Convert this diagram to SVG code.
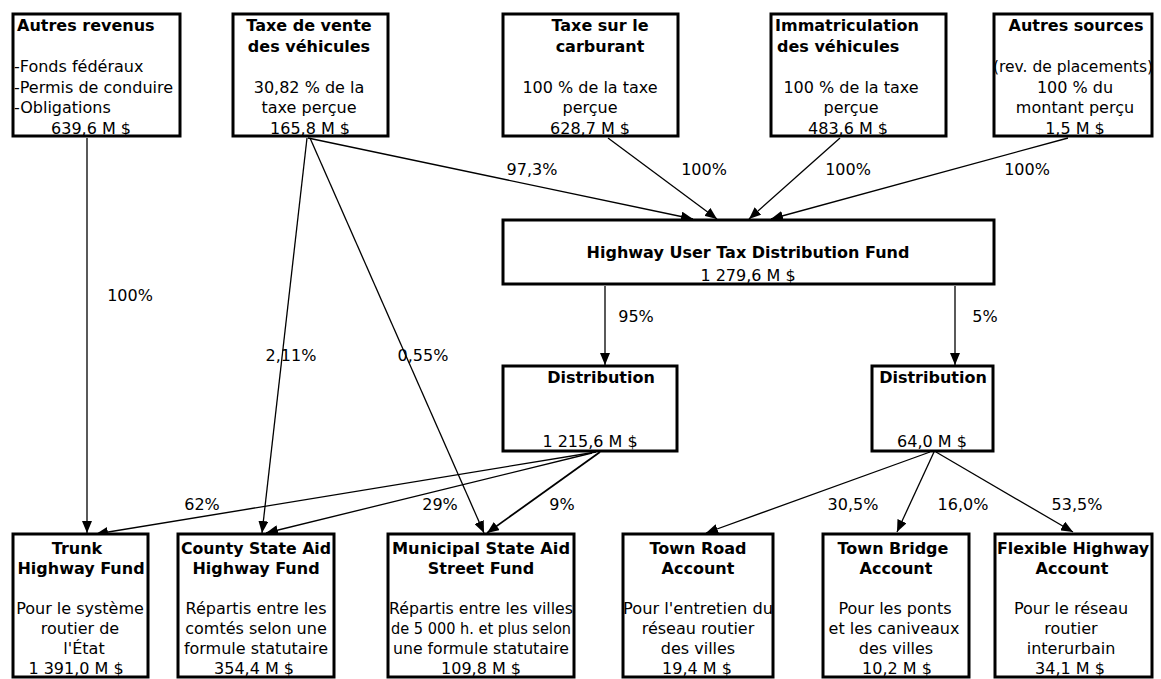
<svg xmlns="http://www.w3.org/2000/svg" width="1161" height="679" viewBox="0 0 1161 679">
<defs>
<style>
.box{fill:#fff;stroke:#000;stroke-width:3}
text{font-family:"DejaVu Sans",Verdana,sans-serif;font-size:16px;fill:#000}
.b{font-weight:bold}
.c{text-anchor:middle}
#connectors line{stroke:#000;stroke-width:1.3;marker-end:url(#ah)}
</style>
<marker id="ah" markerUnits="userSpaceOnUse" markerWidth="12" markerHeight="10" refX="12" refY="5" orient="auto">
<path d="M0,0 L12,5 L0,10 z" fill="#000"/>
</marker>
</defs>
<rect width="1161" height="679" fill="#fff"/>

<g id="connectors">
<line x1="87" y1="138" x2="87" y2="533"/>
<line x1="308" y1="138" x2="693" y2="219"/>
<line x1="608" y1="138" x2="717" y2="219"/>
<line x1="840" y1="138" x2="749" y2="219"/>
<line x1="1068" y1="138" x2="771" y2="219"/>
<line x1="605" y1="286" x2="605" y2="365"/>
<line x1="955" y1="286" x2="955" y2="365"/>
<line x1="307" y1="138" x2="262" y2="533"/>
<line x1="310" y1="138" x2="484" y2="533"/>
<line x1="596" y1="452" x2="96" y2="534"/>
<line x1="592" y1="453" x2="266" y2="533"/>
<line x1="600" y1="452" x2="487" y2="533" style="stroke-width:1.8"/>
<line x1="930" y1="452" x2="706" y2="533"/>
<line x1="934" y1="452" x2="897" y2="532"/>
<line x1="936" y1="452" x2="1073" y2="532"/>
</g>

<g id="labels" class="c">
<text x="130" y="301" class="c">100%</text>
<text x="532" y="175" class="c">97,3%</text>
<text x="704" y="175" class="c">100%</text>
<text x="848" y="175" class="c">100%</text>
<text x="1027" y="175" class="c">100%</text>
<text x="636" y="322" class="c">95%</text>
<text x="985" y="322" class="c">5%</text>
<text x="291" y="361" class="c">2,11%</text>
<text x="423" y="361" class="c">0,55%</text>
<text x="202" y="510" class="c">62%</text>
<text x="440" y="510" class="c">29%</text>
<text x="562" y="510" class="c">9%</text>
<text x="853" y="510" class="c">30,5%</text>
<text x="963" y="510" class="c">16,0%</text>
<text x="1077" y="510" class="c">53,5%</text>
</g>

<g id="autres-revenus">
<rect class="box" x="13" y="14" width="167" height="122"/>
<text x="17" y="31" class="b">Autres revenus</text>
<text x="14" y="72">-Fonds fédéraux</text>
<text x="14" y="92.5">-Permis de conduire</text>
<text x="14" y="113">-Obligations</text>
<text x="91" y="133.5" class="c">639,6 M $</text>
</g>

<g id="taxe-vente">
<rect class="box" x="233" y="14" width="155" height="122"/>
<text x="309" y="31" class="b c">Taxe de vente</text>
<text x="309" y="51.5" class="b c">des véhicules</text>
<text x="309" y="92.5" class="c">30,82 % de la</text>
<text x="309" y="113" class="c">taxe perçue</text>
<text x="310" y="133.5" class="c">165,8 M $</text>
</g>

<g id="taxe-carburant">
<rect class="box" x="503" y="14" width="175" height="122"/>
<text x="600" y="31" class="b c">Taxe sur le</text>
<text x="600" y="51.5" class="b c">carburant</text>
<text x="590" y="92.5" class="c">100 % de la taxe</text>
<text x="590" y="113" class="c">perçue</text>
<text x="590" y="133.5" class="c">628,7 M $</text>
</g>

<g id="immatriculation">
<rect class="box" x="771" y="14" width="175" height="122"/>
<text x="775" y="31" class="b">Immatriculation</text>
<text x="777" y="51.5" class="b">des véhicules</text>
<text x="851" y="92.5" class="c">100 % de la taxe</text>
<text x="851" y="113" class="c">perçue</text>
<text x="848" y="133.5" class="c">483,6 M $</text>
</g>

<g id="autres-sources">
<rect class="box" x="994" y="14" width="158" height="122"/>
<text x="1076" y="31" class="b c">Autres sources</text>
<text x="1073" y="72" class="c" textLength="160" lengthAdjust="spacingAndGlyphs">(rev. de placements)</text>
<text x="1075" y="92.5" class="c">100 % du</text>
<text x="1075" y="113" class="c">montant perçu</text>
<text x="1075" y="133.5" class="c">1,5 M $</text>
</g>

<g id="highway-fund">
<rect class="box" x="503" y="220" width="491" height="64"/>
<text x="748" y="258" class="b c">Highway User Tax Distribution Fund</text>
<text x="748" y="281" class="c">1 279,6 M $</text>
</g>

<g id="distribution-1">
<rect class="box" x="503" y="366" width="174" height="85"/>
<text x="601" y="383" class="b c">Distribution</text>
<text x="590" y="447" class="c">1 215,6 M $</text>
</g>

<g id="distribution-2">
<rect class="box" x="872" y="366" width="121" height="85"/>
<text x="933" y="383" class="b c">Distribution</text>
<text x="932" y="447" class="c">64,0 M $</text>
</g>

<g id="trunk">
<rect class="box" x="13" y="534" width="135" height="143"/>
<text x="77" y="554" class="b c">Trunk</text>
<text x="81" y="574" class="b c">Highway Fund</text>
<text x="80" y="614" class="c">Pour le système</text>
<text x="80" y="634" class="c">routier de</text>
<text x="84" y="654" class="c">l'État</text>
<text x="76" y="674" class="c">1 391,0 M $</text>
</g>

<g id="county">
<rect class="box" x="178" y="534" width="156" height="143"/>
<text x="256" y="554" class="b c" textLength="150" lengthAdjust="spacingAndGlyphs">County State Aid</text>
<text x="256" y="574" class="b c">Highway Fund</text>
<text x="256" y="614" class="c">Répartis entre les</text>
<text x="256" y="634" class="c">comtés selon une</text>
<text x="256" y="654" class="c">formule statutaire</text>
<text x="254" y="674" class="c">354,4 M $</text>
</g>

<g id="municipal">
<rect class="box" x="388" y="534" width="186" height="143"/>
<text x="481" y="554" class="b c" textLength="178" lengthAdjust="spacingAndGlyphs">Municipal State Aid</text>
<text x="481" y="574" class="b c">Street Fund</text>
<text x="481" y="614" class="c" textLength="184" lengthAdjust="spacingAndGlyphs">Répartis entre les villes</text>
<text x="481" y="634" class="c" textLength="180" lengthAdjust="spacingAndGlyphs">de 5 000 h. et plus selon</text>
<text x="481" y="654" class="c" textLength="176" lengthAdjust="spacingAndGlyphs">une formule statutaire</text>
<text x="481" y="674" class="c">109,8 M $</text>
</g>

<g id="town-road">
<rect class="box" x="623" y="534" width="150" height="143"/>
<text x="698" y="554" class="b c">Town Road</text>
<text x="698" y="574" class="b c">Account</text>
<text x="698" y="614" class="c" textLength="150" lengthAdjust="spacingAndGlyphs">Pour l'entretien du</text>
<text x="698" y="634" class="c">réseau routier</text>
<text x="698" y="654" class="c">des villes</text>
<text x="697" y="674" class="c">19,4 M $</text>
</g>

<g id="town-bridge">
<rect class="box" x="823" y="534" width="146" height="143"/>
<text x="893" y="554" class="b c">Town Bridge</text>
<text x="896" y="574" class="b c">Account</text>
<text x="895" y="614" class="c">Pour les ponts</text>
<text x="894" y="634" class="c">et les caniveaux</text>
<text x="896" y="654" class="c">des villes</text>
<text x="897" y="674" class="c">10,2 M $</text>
</g>

<g id="flexible">
<rect class="box" x="995" y="534" width="157" height="143"/>
<text x="1073" y="554" class="b c" textLength="152" lengthAdjust="spacingAndGlyphs">Flexible Highway</text>
<text x="1072" y="574" class="b c">Account</text>
<text x="1071" y="614" class="c">Pour le réseau</text>
<text x="1071" y="634" class="c">routier</text>
<text x="1071" y="654" class="c">interurbain</text>
<text x="1070" y="674" class="c">34,1 M $</text>
</g>
</svg>
